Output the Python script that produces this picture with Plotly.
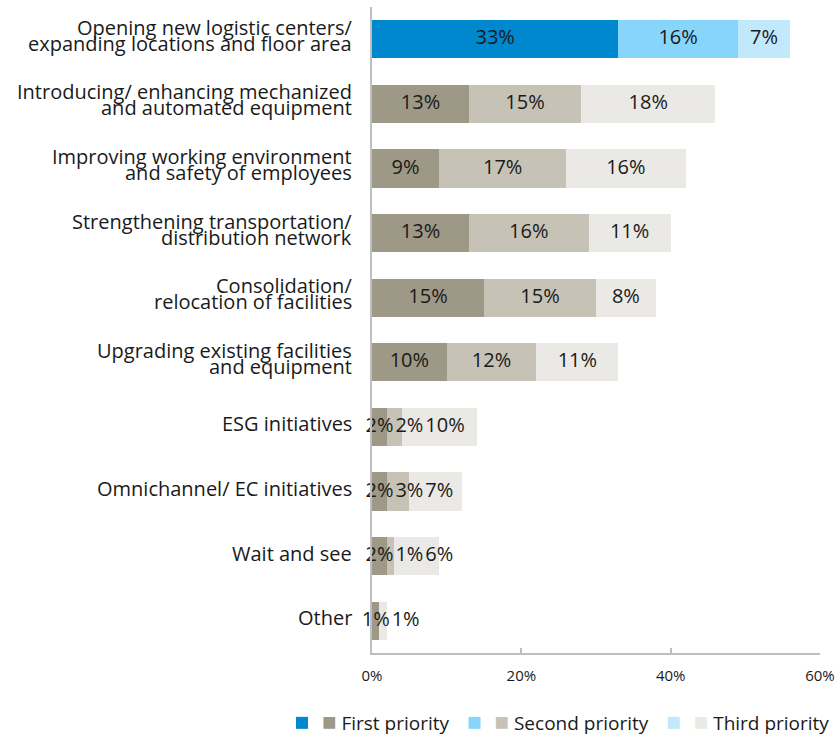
import plotly.graph_objects as go

categories = [
    "Opening new logistic centers/<br>expanding locations and floor area",
    "Introducing/ enhancing mechanized<br>and automated equipment",
    "Improving working environment<br>and safety of employees",
    "Strengthening transportation/<br>distribution network",
    "Consolidation/<br>relocation of facilities",
    "Upgrading existing facilities<br>and equipment",
    "ESG initiatives",
    "Omnichannel/ EC initiatives",
    "Wait and see",
    "Other",
]
first_priority = [33, 13, 9, 13, 15, 10, 2, 2, 2, 1]
second_priority = [16, 15, 17, 16, 15, 12, 2, 3, 1, 0]
third_priority = [7, 18, 16, 11, 8, 11, 10, 7, 6, 1]
series_names = ["First priority", "Second priority", "Third priority"]
highlight_colors = ["#0088CE", "#87D5FB", "#C2E8FB"]
grey_colors = ["#9E9886", "#C6C3B6", "#EAE9E5"]
x_ticks = [0, 20, 40, 60]

FONT = "Open Sans"
TXT = "#1a1a1a"
LBL = 20

W, H = 835, 737
ML, MR, MT, MB = 372, 15, 7, 84
XMAX = 60
PW = W - ML - MR
PH = H - MT - MB
px_per_unit = PW / XMAX
GAP = 2

series = [first_priority, second_priority, third_priority]


def text_width(s, size):
    w = 0.0
    for ch in s:
        w += 0.824 if ch == "%" else 0.572
    return w * size


# label positions: centred in segments, pushed right to avoid overlap
label_x = [[None] * len(categories) for _ in series]
for r in range(len(categories)):
    cum = 0.0
    prev_right = -1e9
    for i, vals in enumerate(series):
        v = vals[r]
        if v:
            c = (cum + v / 2) * px_per_unit
            w = text_width(f"{v}%", LBL)
            if c - w / 2 < prev_right:
                c = prev_right + w / 2
            prev_right = c + w / 2 + GAP
            label_x[i][r] = c / px_per_unit
        cum += v

fig = go.Figure()
for i, vals in enumerate(series):
    fig.add_trace(go.Bar(
        y=[categories[0]], x=[vals[0]], orientation="h",
        marker=dict(color=highlight_colors[i], line=dict(width=0)),
        name=(f'<span style="color:{grey_colors[i]};font-size:24px">■</span> '
              f'{series_names[i]}'),
        showlegend=True, hoverinfo="skip",
    ))
    fig.add_trace(go.Bar(
        y=categories[1:], x=vals[1:], orientation="h",
        marker=dict(color=grey_colors[i], line=dict(width=0)),
        name=series_names[i], showlegend=False, hoverinfo="skip",
    ))

for i, vals in enumerate(series):
    xs, ys, ts = [], [], []
    for r, v in enumerate(vals):
        if v:
            xs.append(label_x[i][r])
            ys.append(categories[r])
            ts.append(f"{v}%")
    fig.add_trace(go.Scatter(
        x=xs, y=ys, text=ts, mode="text", textposition="middle center",
        textfont=dict(size=LBL, color=TXT, family=FONT),
        showlegend=False, hoverinfo="skip", cliponaxis=False,
    ))

annotations = []
for c in categories:
    lines = c.split("<br>")
    shifts = [3] if len(lines) == 1 else [12, -4]
    for ln, s in zip(lines, shifts):
        annotations.append(dict(
            x=0, xref="paper", y=c, yref="y", xanchor="right", yanchor="middle",
            xshift=-18, yshift=s, text=ln, showarrow=False, align="center",
            font=dict(size=LBL, color=TXT, family=FONT),
        ))

fig.update_layout(
    width=W, height=H,
    barmode="stack", bargap=0.41,
    plot_bgcolor="white", paper_bgcolor="white",
    margin=dict(l=ML, r=MR, t=MT, b=MB, autoexpand=False),
    font=dict(family=FONT, color=TXT),
    annotations=annotations,
    legend=dict(
        orientation="h", xref="paper", x=(282 - ML) / PW, xanchor="left",
        yref="paper", y=-(723 - (MT + PH)) / PH, yanchor="middle",
        font=dict(size=19, color=TXT, family=FONT), traceorder="normal",
        bgcolor="rgba(0,0,0,0)",
    ),
    xaxis=dict(
        range=[0, XMAX], tickmode="array", tickvals=x_ticks,
        ticktext=[f"{t}%" for t in x_ticks],
        ticks="inside", ticklen=5, tickcolor="#BFBFBF", tickwidth=1.5,
        showline=True, linecolor="#BFBFBF", linewidth=1.5,
        showgrid=False, zeroline=False, ticklabelstandoff=8,
        tickfont=dict(size=15, color=TXT, family=FONT),
    ),
    yaxis=dict(
        categoryorder="array", categoryarray=categories,
        range=[len(categories) - 0.5, -0.5], showticklabels=False, ticks="",
        showline=True, linecolor="#BFBFBF", linewidth=1.5,
        showgrid=False, zeroline=False,
    ),
)

fig.write_html(
    "out.html",
    config={"displayModeBar": False},
    post_script="document.body.style.margin='0';document.body.style.overflow='hidden';",
)
